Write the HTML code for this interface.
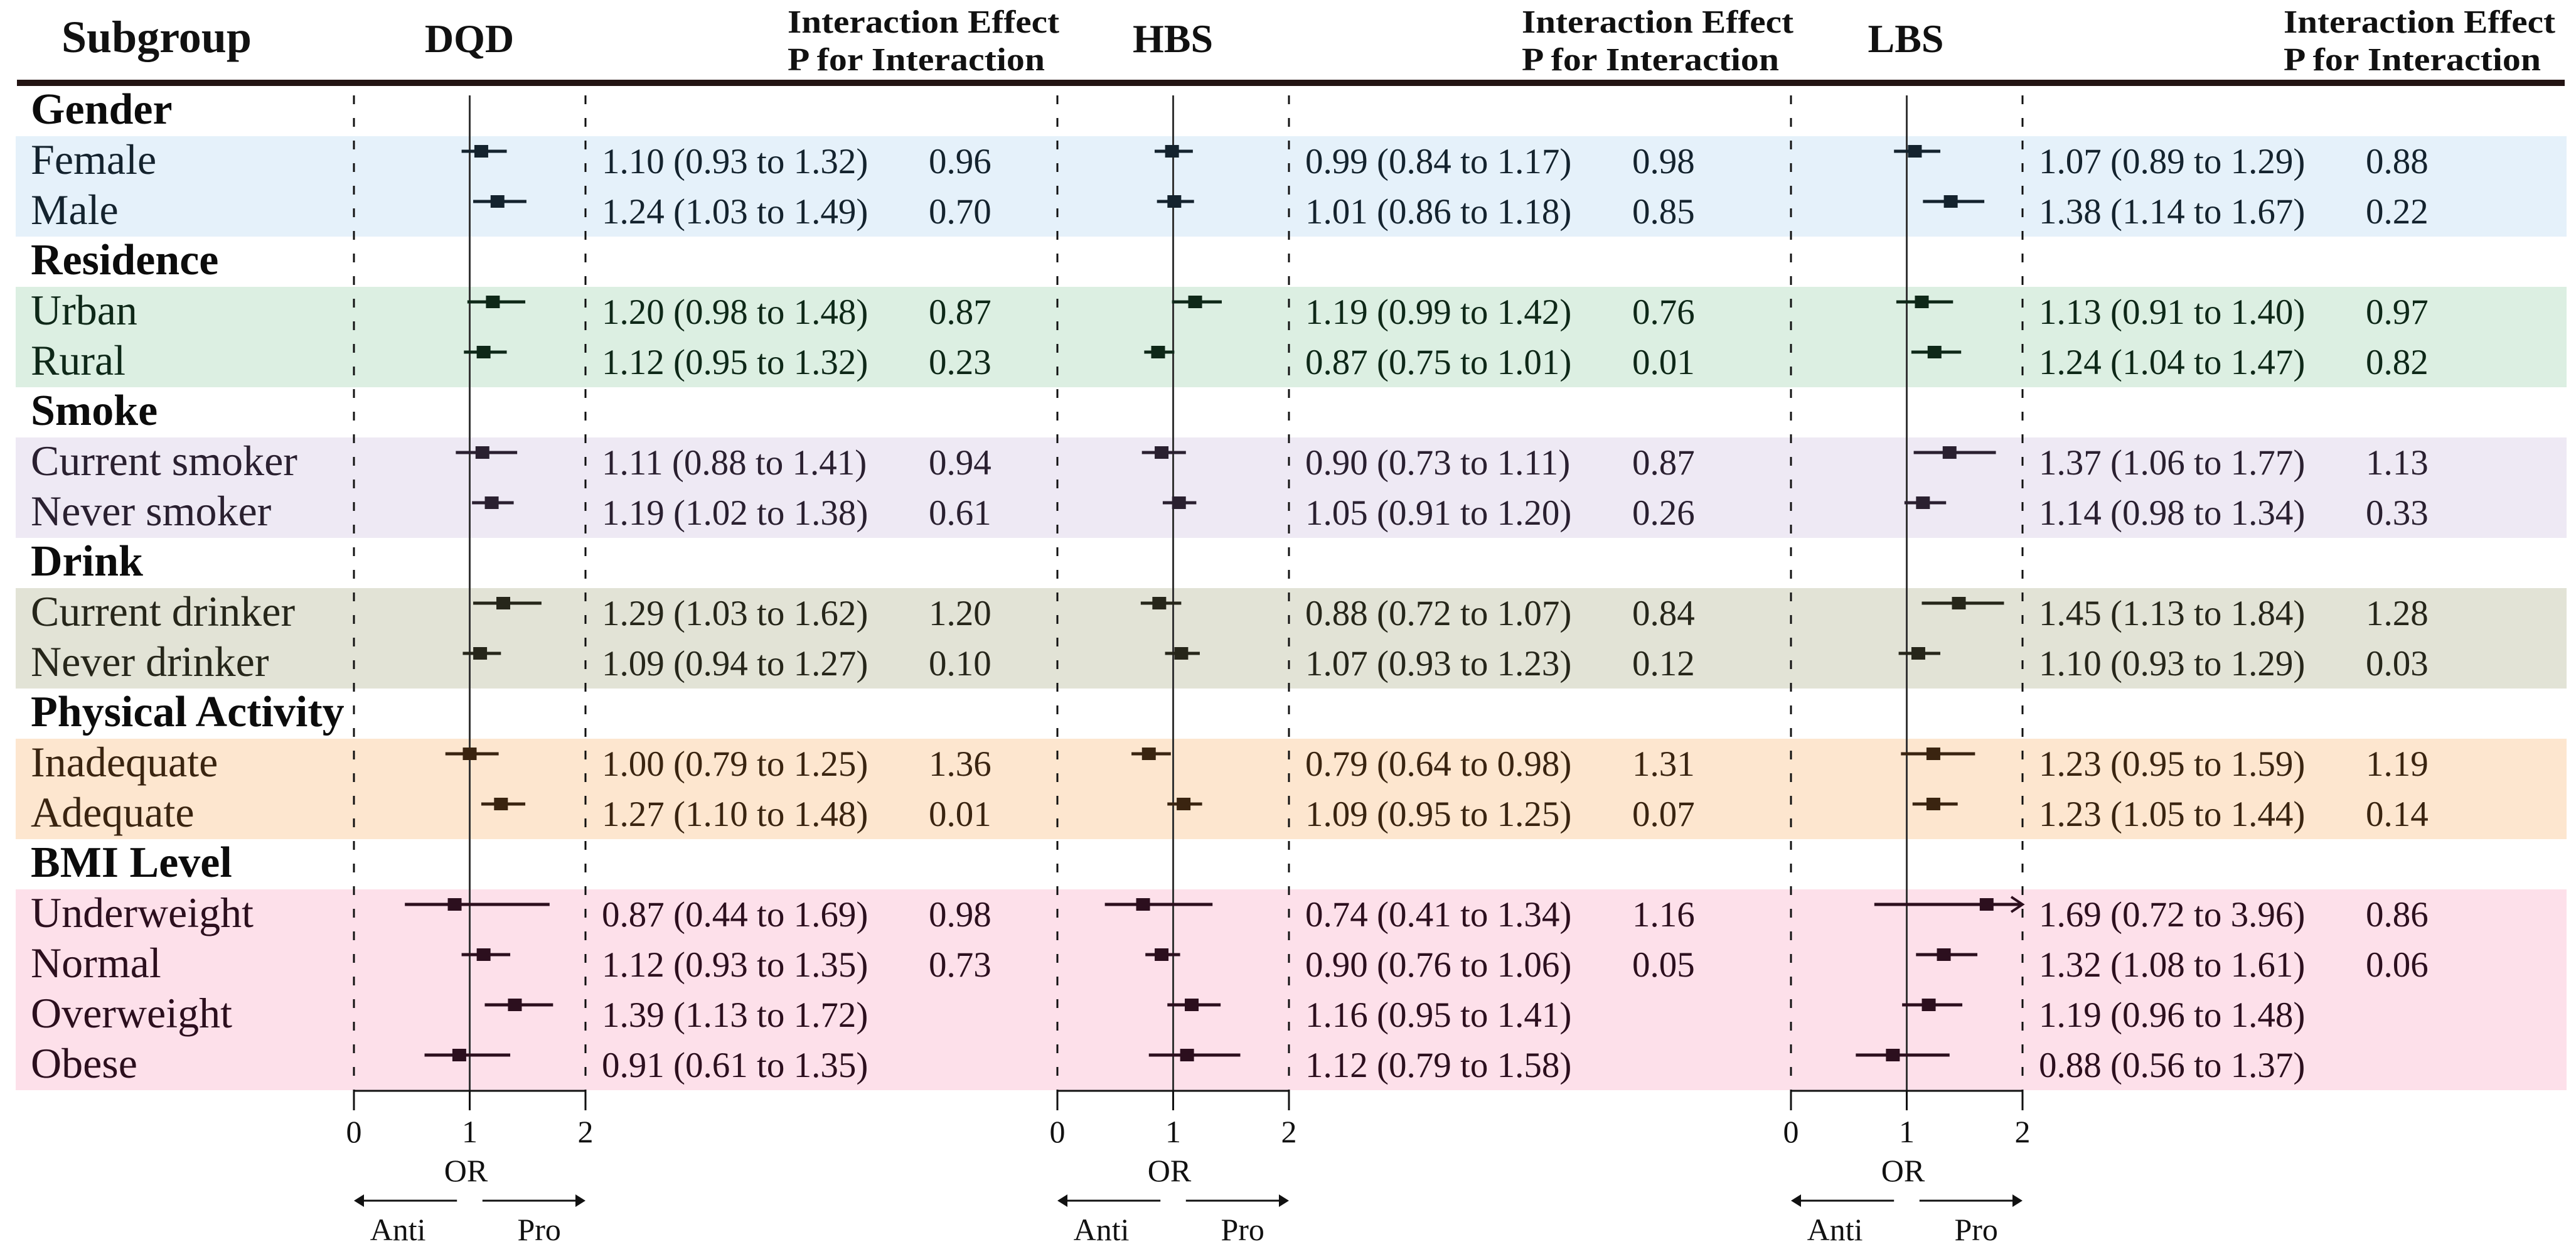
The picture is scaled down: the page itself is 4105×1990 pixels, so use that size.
<!DOCTYPE html>
<html><head><meta charset="utf-8">
<style>
html,body{margin:0;padding:0;background:#fff;}
svg{display:block;font-family:"Liberation Serif",serif;}
</style></head>
<body>
<svg id="chart" width="4105" height="1990" viewBox="0 0 4105 1990" xmlns="http://www.w3.org/2000/svg">
  <g id="bands"></g>
  <g id="headers">
    <text x="98" y="83" font-size="72" font-weight="bold" fill="#111">Subgroup</text>
    <text x="748" y="83" font-size="64" font-weight="bold" fill="#111" text-anchor="middle">DQD</text>
    <text x="1869" y="83" font-size="64" font-weight="bold" fill="#111" text-anchor="middle">HBS</text>
    <text x="3037" y="83" font-size="64" font-weight="bold" fill="#111" text-anchor="middle">LBS</text>
    <text x="1255" y="52" font-size="52" font-weight="bold" fill="#111" textLength="433" lengthAdjust="spacingAndGlyphs">Interaction Effect</text>
    <text x="1255" y="112" font-size="52" font-weight="bold" fill="#111" textLength="410" lengthAdjust="spacingAndGlyphs">P for Interaction</text>
    <text x="2425" y="52" font-size="52" font-weight="bold" fill="#111" textLength="433" lengthAdjust="spacingAndGlyphs">Interaction Effect</text>
    <text x="2425" y="112" font-size="52" font-weight="bold" fill="#111" textLength="410" lengthAdjust="spacingAndGlyphs">P for Interaction</text>
    <text x="3639" y="52" font-size="52" font-weight="bold" fill="#111" textLength="433" lengthAdjust="spacingAndGlyphs">Interaction Effect</text>
    <text x="3639" y="112" font-size="52" font-weight="bold" fill="#111" textLength="410" lengthAdjust="spacingAndGlyphs">P for Interaction</text>
    <rect x="27" y="127" width="4060" height="10" fill="#231413"/>
  </g>
  <g id="labels"></g>
  <g id="panels"></g>
</svg>
<script>
// ---- data ----
const groups = ["Gender","Residence","Smoke","Drink","Physical Activity","BMI Level"];
const subgroups = [
  ["Female","Male"],
  ["Urban","Rural"],
  ["Current smoker","Never smoker"],
  ["Current drinker","Never drinker"],
  ["Inadequate","Adequate"],
  ["Underweight","Normal","Overweight","Obese"]
];
const dqdOR   = [1.10,1.24,1.20,1.12,1.11,1.19,1.29,1.09,1.00,1.27,0.87,1.12,1.39,0.91];
const dqdLow  = [0.93,1.03,0.98,0.95,0.88,1.02,1.03,0.94,0.79,1.10,0.44,0.93,1.13,0.61];
const dqdHigh = [1.32,1.49,1.48,1.32,1.41,1.38,1.62,1.27,1.25,1.48,1.69,1.35,1.72,1.35];
const dqdP    = ["0.96","0.70","0.87","0.23","0.94","0.61","1.20","0.10","1.36","0.01","0.98","0.73","",""];
const hbsOR   = [0.99,1.01,1.19,0.87,0.90,1.05,0.88,1.07,0.79,1.09,0.74,0.90,1.16,1.12];
const hbsLow  = [0.84,0.86,0.99,0.75,0.73,0.91,0.72,0.93,0.64,0.95,0.41,0.76,0.95,0.79];
const hbsHigh = [1.17,1.18,1.42,1.01,1.11,1.20,1.07,1.23,0.98,1.25,1.34,1.06,1.41,1.58];
const hbsP    = ["0.98","0.85","0.76","0.01","0.87","0.26","0.84","0.12","1.31","0.07","1.16","0.05","",""];
const lbsOR   = [1.07,1.38,1.13,1.24,1.37,1.14,1.45,1.10,1.23,1.23,1.69,1.32,1.19,0.88];
const lbsLow  = [0.89,1.14,0.91,1.04,1.06,0.98,1.13,0.93,0.95,1.05,0.72,1.08,0.96,0.56];
const lbsHigh = [1.29,1.67,1.40,1.47,1.77,1.34,1.84,1.29,1.59,1.44,3.96,1.61,1.48,1.37];
const lbsP    = ["0.88","0.22","0.97","0.82","1.13","0.33","1.28","0.03","1.19","0.14","0.86","0.06","",""];
const axisTicks = [0,1,2];

// ---- styling ----
const bandColors = ["#e5f1fa","#dcefe2","#eee9f4","#e2e3d6","#fde6cf","#fde0ea"];
const markColors = ["#14232e","#0e2818","#2a2030","#26261a","#3a2410","#2c0f1e"];
const NS = "http://www.w3.org/2000/svg";
const ROW0 = 177, PITCH = 80, UNIT = 184.5;
const AXIS_TOP = 152, AXIS_Y = 1738;
function mk(tag, attrs, parent){const e=document.createElementNS(NS,tag);for(const k in attrs)e.setAttribute(k,attrs[k]);parent.appendChild(e);return e;}
function rowY(i){return ROW0 + PITCH*i;}

const bandsG = document.getElementById('bands');
const labelsG = document.getElementById('labels');
const panelsG = document.getElementById('panels');

const rows = [];
let di = 0;
groups.forEach((g,gi)=>{
  rows.push({type:'h', text:g, gi});
  subgroups[gi].forEach(s=>{rows.push({type:'s', text:s, gi, di}); di++;});
});

let r = 0;
groups.forEach((g,gi)=>{
  const first = r+1, n = subgroups[gi].length;
  const band = mk('rect',{x:25,y:rowY(first)-40,width:4065,height:PITCH*n,fill:bandColors[gi]},bandsG);
  
  
  r += n+1;
});
rows.forEach((row,i)=>{
  const t = mk('text',{x:49,y:rowY(i)+20,'font-size':row.type==='h'?70:68,'font-weight':row.type==='h'?'bold':'normal',fill:row.type==='h'?'#0c0c0c':markColors[row.gi]},labelsG);
  t.textContent = row.text;
  
  
});

const panels = [
  {name:'dqd', x0:564, or:dqdOR, lo:dqdLow, hi:dqdHigh, p:dqdP},
  {name:'hbs', x0:1685, or:hbsOR, lo:hbsLow, hi:hbsHigh, p:hbsP},
  {name:'lbs', x0:2854, or:lbsOR, lo:lbsLow, hi:lbsHigh, p:lbsP}
];
panels.forEach(P=>{
  const g = mk('g',{},panelsG);
  
  
  const xs = v => P.x0 + UNIT*v;
  const xmax = axisTicks[axisTicks.length-1];
  const d0 = mk('line',{x1:xs(0),x2:xs(0),y1:AXIS_TOP,y2:AXIS_Y,stroke:'#111','stroke-width':3,'stroke-dasharray':'14 22'},g);
  
  
  const d2 = mk('line',{x1:xs(2),x2:xs(2),y1:AXIS_TOP,y2:AXIS_Y,stroke:'#111','stroke-width':3,'stroke-dasharray':'14 22'},g);
  
  
  const ref = mk('line',{x1:xs(1),x2:xs(1),y1:AXIS_TOP,y2:AXIS_Y,stroke:'#333','stroke-width':3},g);
  
  
  const ax = mk('line',{x1:xs(0)-1.5,x2:xs(xmax)+1.5,y1:AXIS_Y,y2:AXIS_Y,stroke:'#111','stroke-width':3},g);
  
  
  axisTicks.forEach(t=>{
    const tk = mk('line',{x1:xs(t),x2:xs(t),y1:AXIS_Y,y2:AXIS_Y+31,stroke:'#111','stroke-width':3},g);
    
    
    const tl = mk('text',{x:xs(t),y:1820,'font-size':50,'text-anchor':'middle',fill:'#111'},g);
    tl.textContent = String(t);
    
    
  });
  const orl = mk('text',{x:xs(1)-6,y:1882,'font-size':50,'text-anchor':'middle',fill:'#111'},g);
  orl.textContent='OR';
  
  
  const la = mk('line',{x1:xs(0.89),x2:xs(0)+14,y1:1913,y2:1913,stroke:'#111','stroke-width':3},g);
  
  
  const lah = mk('polygon',{points:`${xs(0)},1913 ${xs(0)+16},1903 ${xs(0)+16},1923`,fill:'#111'},g);
  
  
  const ra = mk('line',{x1:xs(1.11),x2:xs(2)-14,y1:1913,y2:1913,stroke:'#111','stroke-width':3},g);
  
  
  const rah = mk('polygon',{points:`${xs(2)},1913 ${xs(2)-16},1903 ${xs(2)-16},1923`,fill:'#111'},g);
  
  
  const at = mk('text',{x:xs(0.38),y:1976,'font-size':50,'text-anchor':'middle',fill:'#111'},g);
  at.textContent='Anti';
  
  
  const pt = mk('text',{x:xs(1.6),y:1976,'font-size':50,'text-anchor':'middle',fill:'#111'},g);
  pt.textContent='Pro';
  
  

  rows.forEach((row,i)=>{
    if(row.type!=='s') return;
    const k = row.di, y = rowY(i), col = markColors[row.gi];
    const cy = y - 16;
    const hiV = Math.min(P.hi[k], xmax);
    const ci = mk('line',{x1:xs(P.lo[k]),x2:xs(hiV),y1:cy,y2:cy,stroke:col,'stroke-width':5},g);
    
    
    if(P.hi[k] > xmax){
      const arr = mk('polyline',{points:`${xs(xmax)-18},${cy-12} ${xs(xmax)},${cy} ${xs(xmax)-18},${cy+12}`,fill:'none',stroke:col,'stroke-width':4},g);
      
      
    }
    const m = mk('rect',{x:xs(P.or[k])-11,y:cy-10,width:22,height:20,fill:col},g);
    
    
    const vt = mk('text',{x:P.x0+395,y:y+19,'font-size':57,fill:col},g);
    vt.textContent = P.or[k].toFixed(2)+' ('+P.lo[k].toFixed(2)+' to '+P.hi[k].toFixed(2)+')';
    
    
    if(P.p[k]){
      const pv = mk('text',{x:P.x0+916,y:y+19,'font-size':57,fill:col},g);
      pv.textContent = P.p[k];
      
      
    }
  });
});
</script>
</body></html>
